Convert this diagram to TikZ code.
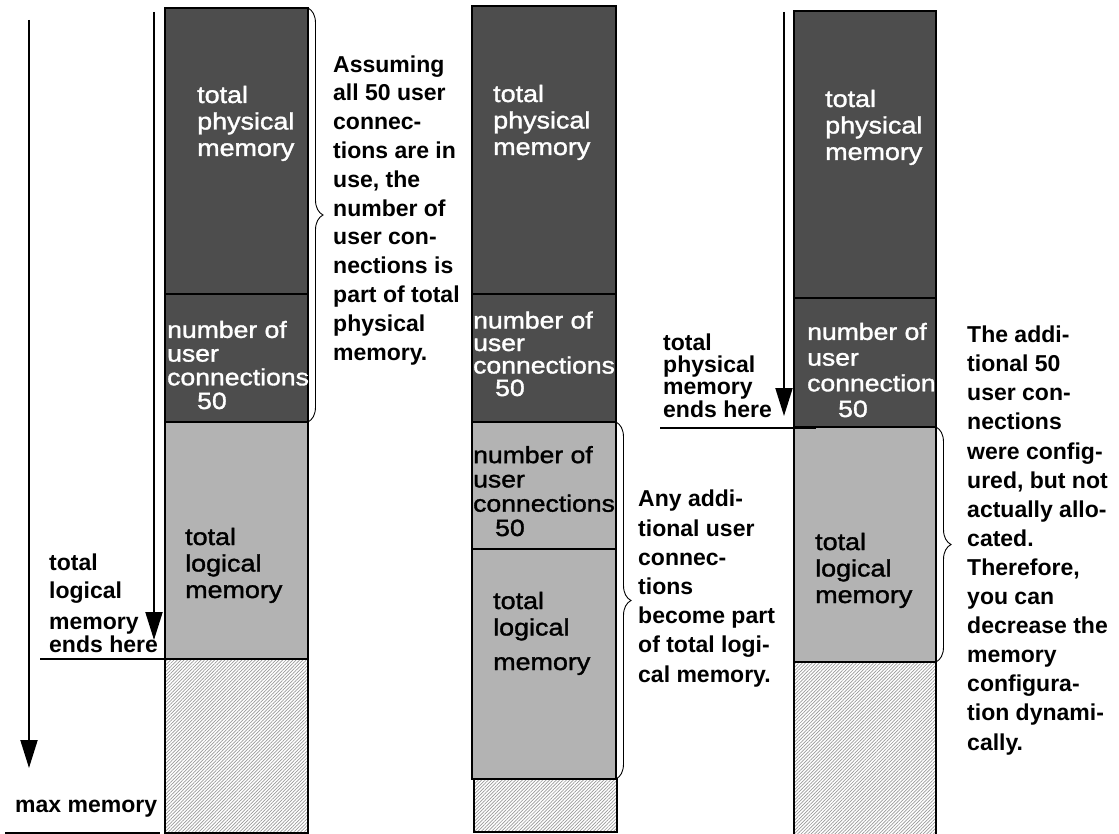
\documentclass[tikz,border=0pt]{standalone}
\usepackage{fontspec}
\setmainfont{Liberation Sans}
\newfontfamily\boxfont[FakeStretch=1.13,FakeBold=1.5]{Liberation Sans}
\usetikzlibrary{arrows.meta,patterns.meta,decorations.pathreplacing}
\definecolor{physfill}{HTML}{4D4D4D}
\definecolor{logfill}{HTML}{B3B3B3}
\begin{document}
\begin{tikzpicture}[x=1pt,y=-1pt,
  seg/.style={draw=black,line width=2pt},
  phys/.style={seg,fill=physfill},
  logic/.style={seg,fill=logfill},
  unused/.style={seg,pattern={Lines[angle=45,distance=2.4pt,line width=0.7pt]},pattern color=gray!80},
  pointer/.style={line width=2pt,-{Triangle[width=17pt,length=28pt]}},
  endline/.style={line width=1.6pt},
  curly/.style={line width=0.9pt,decorate,decoration={brace,amplitude=15pt,aspect=0.5}},
  inbox/.style={inner sep=0pt,anchor=base west,align=left,font=\boxfont\fontsize{23.8}{26.5}\selectfont},
  inwhite/.style={inbox,text=white},
  note/.style={inner sep=0pt,anchor=base west,align=left,font=\bfseries\fontsize{23}{28.8}\selectfont}]
\useasboundingbox (0,0) rectangle (1119,834);
% text nodes are placed by the baseline of their last line

% ---------- first column: all connections in use ----------
\draw[phys]   (165,8)   rectangle (308,294);
\draw[phys]   (165,294) rectangle (308,422);
\draw[logic]  (165,422) rectangle (308,659);
\draw[unused] (165,659) rectangle (308,833);
\node[inwhite] (a-phys) at (197,156) {total\\physical\\memory};
\node[inwhite,font=\boxfont\fontsize{23.5}{23.7}\selectfont] (a-uc) at (167,409)
  {number of\\user\\connections\\\hspace*{30pt}50};
\node[inbox] (a-log) at (185,598) {total\\logical\\memory};

\coordinate (a1s) at (29,20);  \coordinate (a1e) at (29,768);
\coordinate (a2s) at (154,12); \coordinate (a2e) at (154,640);
\draw[pointer] (a1s) -- (a1e);
\draw[pointer] (a2s) -- (a2e);
\coordinate (l1s) at (40,659); \coordinate (l1e) at (165,659);
\coordinate (l2s) at (5,833);  \coordinate (l2e) at (160,833);
\draw[endline] (l1s) -- (l1e);
\draw[endline] (l2s) -- (l2e);
\node[note] (a-end) at (49,652)
  {total\\logical\\[1.5pt]memory\\[-6pt]ends here};
\node[note] (a-max) at (15,812) {max memory};

\coordinate (ab1) at (308,8); \coordinate (ab2) at (308,422);
\draw[curly] (ab1) -- (ab2);
\node[note] (a-txt) at (333,360)
  {Assuming\\all 50 user\\connec-\\tions are in\\use, the\\number of\\user con-\\nections is\\part of total\\physical\\memory.};

% ---------- second column: connections moved to logical memory ----------
\draw[phys]   (472,6)   rectangle (616,294);
\draw[phys]   (472,294) rectangle (616,422);
\draw[logic]  (472,422) rectangle (616,549);
\draw[logic]  (472,549) rectangle (616,779);
\draw[unused] (474,779) rectangle (617,832);
\node[inwhite] (b-phys) at (493,155) {total\\physical\\memory};
\node[inwhite,font=\boxfont\fontsize{23.5}{22.5}\selectfont] (b-uc) at (473,396)
  {number of\\user\\connections\\\hspace*{22pt}50};
\node[inbox,font=\boxfont\fontsize{23.5}{24.3}\selectfont] (b-uc2) at (473,536)
  {number of\\user\\connections\\\hspace*{22pt}50};
\node[inbox] (b-log) at (493,670) {total\\logical\\[8pt]memory};

\coordinate (bb1) at (616,422); \coordinate (bb2) at (616,779);
\draw[curly] (bb1) -- (bb2);
\node[note,font=\bfseries\fontsize{23}{29.2}\selectfont] (b-txt) at (638,682)
  {Any addi-\\tional user\\connec-\\tions\\become part\\of total logi-\\cal memory.};

% ---------- third column: configured but not allocated ----------
\draw[phys]   (794,11)  rectangle (936,298);
\draw[phys]   (794,298) rectangle (936,427);
\draw[logic]  (794,427) rectangle (936,662);
\draw[unused] (794,662) rectangle (936,838);
\node[inwhite] (c-phys) at (825,160) {total\\physical\\memory};
\begin{scope}
  \clip (795,299) rectangle (935,426);
  \node[inwhite,font=\boxfont\fontsize{23.5}{25.7}\selectfont] (c-uc) at (807,417)
    {number of\\user\\connections\\\hspace*{31pt}50};
\end{scope}
\node[inbox] (c-log) at (815,603) {total\\logical\\memory};

\coordinate (c1s) at (784,12); \coordinate (c1e) at (784,416);
\draw[pointer] (c1s) -- (c1e);
\coordinate (l3s) at (660,428); \coordinate (l3e) at (816,428);
\draw[endline] (l3s) -- (l3e);
\node[note,font=\bfseries\fontsize{23}{22.3}\selectfont] (c-end) at (663,417)
  {total\\physical\\memory\\ends here};

\coordinate (cb1) at (936,427); \coordinate (cb2) at (936,662);
\draw[curly] (cb1) -- (cb2);
\node[note,font=\bfseries\fontsize{23}{29.1}\selectfont] (c-txt) at (967,750)
  {The addi-\\tional 50\\user con-\\nections\\were config-\\ured, but not\\actually allo-\\cated.\\Therefore,\\you can\\decrease the\\memory\\configura-\\tion dynami-\\cally.};
\end{tikzpicture}
\end{document}
